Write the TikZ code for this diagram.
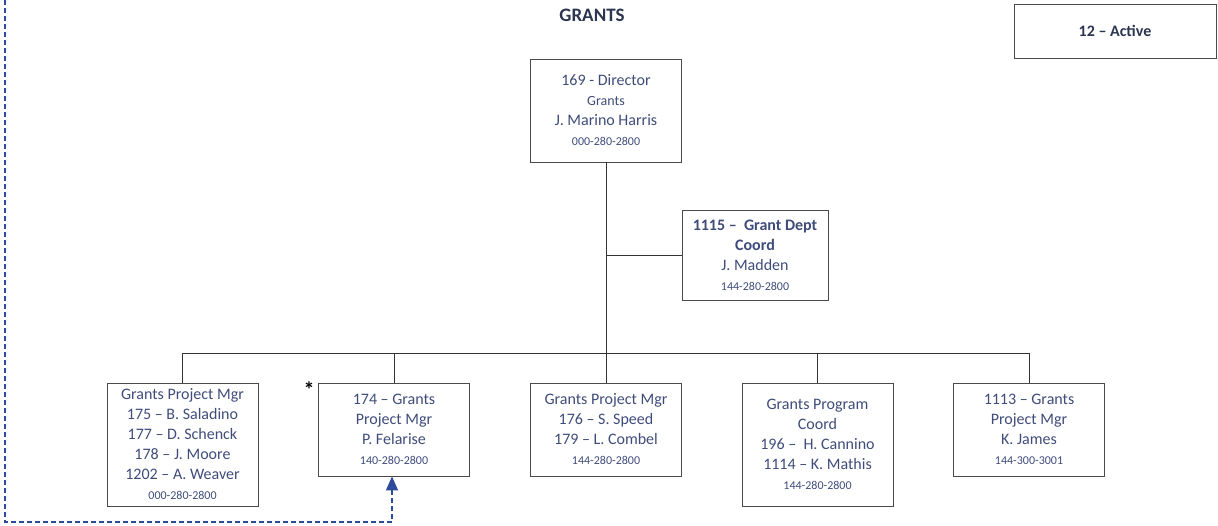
\documentclass[tikz,border=0pt]{standalone}
\usepackage{fontspec}
\setmainfont{Carlito}
\usetikzlibrary{arrows.meta}
\definecolor{txt}{HTML}{3F4C7A}
\definecolor{ttl}{HTML}{2B3550}
\definecolor{boxline}{HTML}{4A4A4A}
\definecolor{dashblue}{HTML}{2E4A9A}
\newcommand{\ph}{\fontsize{12}{20}\selectfont}
\newcommand{\sm}{\fontsize{14}{20}\selectfont}
\tikzset{
  orgbox/.style={draw=boxline, line width=0.9pt, rectangle, minimum width=151pt, inner sep=0pt,
    align=center, text=txt, font=\fontsize{16}{20}\selectfont},
  conn/.style={draw=black!80, line width=0.9pt},
  dashconn/.style={draw=dashblue, line width=1.3pt, dash pattern=on 5pt off 3pt}
}
\begin{document}
\begin{tikzpicture}[x=1pt,y=-1pt]
\useasboundingbox (0,0) rectangle (1218,525);
% title
\node[font=\bfseries\fontsize{19}{20}\selectfont, text=ttl] (title) at (592,15) {GRANTS};
% active box
\node[draw=boxline, line width=0.8pt, minimum width=202pt, minimum height=54pt, inner sep=0pt,
  font=\bfseries\fontsize{16}{18}\selectfont, text=ttl] (active) at (1115,31) {12 -- Active};
% director
\node[orgbox, minimum height=103pt] (dir) at (606,110.5)
  {169 - Director\\{\sm Grants}\\J. Marino Harris\\{\ph 000-280-2800}};
% dept coord
\node[orgbox, minimum width=146pt, minimum height=90pt] (dept) at (755,255)
  {\textbf{1115 --\ \ Grant Dept}\\\textbf{Coord}\\J. Madden\\{\ph 144-280-2800}};
% bottom row
\node[orgbox, minimum height=123pt] (b1) at (182.5,444.5)
  {Grants Project Mgr\\175 -- B. Saladino\\177 -- D. Schenck\\178 -- J. Moore\\1202 -- A. Weaver\\{\ph 000-280-2800}};
\node[orgbox, minimum height=93pt] (b2) at (394,429.5)
  {174 -- Grants\\Project Mgr\\P. Felarise\\{\ph 140-280-2800}};
\node[orgbox, minimum height=93pt] (b3) at (606,429.5)
  {Grants Project Mgr\\176 -- S. Speed\\179 -- L. Combel\\{\ph 144-280-2800}};
\node[orgbox, minimum height=123pt] (b4) at (817.5,444.5)
  {Grants Program\\Coord\\196 --\ \ H. Cannino\\1114 -- K. Mathis\\{\ph 144-280-2800}};
\node[orgbox, minimum height=93pt] (b5) at (1029,429.5)
  {1113 -- Grants\\Project Mgr\\K. James\\{\ph 144-300-3001}};
\node[font=\bfseries\fontsize{22}{22}\selectfont] (star) at (309,390) {*};
% connectors
\coordinate (bus) at (606,353);
\draw[conn] (dir.south) -- (b3.north);
\draw[conn] (dept.west) -- (dept.west -| dir.south);
\draw[conn] (b1.north) -- (b1.north |- bus) -- (b5.north |- bus) -- (b5.north);
\draw[conn] (b2.north) -- (b2.north |- bus);
\draw[conn] (b4.north) -- (b4.north |- bus);
% dashed link
\coordinate (dtop) at (5,0);
\coordinate (dbot) at (392,522);
\draw[dashconn, -{Triangle[length=14pt,width=12pt]}] (dtop) |- (dbot) -- (dbot |- b2.south);
\end{tikzpicture}
\end{document}
